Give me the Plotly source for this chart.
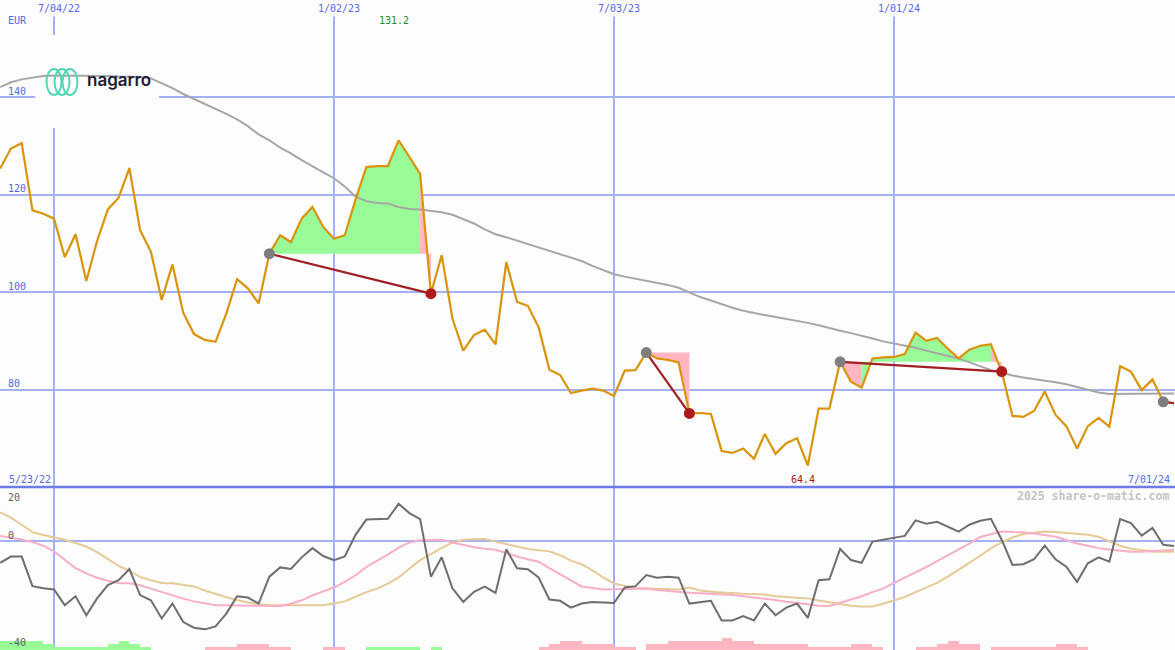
import pandas as pd
import plotly.graph_objects as go

# ---------------- data ----------------
dates = pd.date_range("2022-05-30", periods=110, freq="7D")

price = [125.4, 129.5, 130.6, 116.8, 116.1, 115.1, 107.2, 111.9, 102.3, 110.5,
         117.0, 119.4, 125.5, 112.7, 108.3, 98.4, 105.7, 95.8, 91.4, 90.2,
         89.8, 95.6, 102.7, 100.8, 97.7, 107.9, 111.7, 110.3, 115.1, 117.5,
         113.4, 111.0, 111.7, 119.0, 125.7, 125.9, 125.9, 131.2, 127.8, 124.3,
         99.7, 107.6, 94.6, 88.0, 91.2, 92.3, 89.3, 106.2, 98.0, 97.2,
         92.8, 84.1, 83.0, 79.3, 79.8, 80.2, 79.8, 78.7, 83.9, 84.0,
         87.6, 86.4, 86.1, 85.6, 75.1, 75.2, 75.0, 67.4, 67.0, 67.9,
         65.8, 70.9, 66.8, 69.0, 70.0, 64.4, 76.1, 76.1, 85.7, 81.6,
         80.4, 86.4, 86.6, 86.7, 87.3, 91.7, 90.0, 90.6, 88.4, 86.4,
         88.2, 89.0, 89.3, 83.7, 74.6, 74.4, 75.6, 79.6, 74.8, 72.5,
         67.9, 72.5, 74.2, 72.4, 84.8, 83.7, 79.9, 82.1, 77.5, 77.2]

moving_avg = [142.1, 143.1, 143.7, 144.1, 144.4, 144.5, 144.5, 144.5, 144.4, 144.4,
              144.4, 144.3, 144.3, 144.2, 143.9, 142.9, 141.9, 140.7, 139.7, 138.6,
              137.6, 136.6, 135.5, 134.1, 132.4, 131.2, 129.7, 128.5, 127.1, 125.8,
              124.6, 123.4, 121.7, 119.6, 118.7, 118.3, 118.2, 117.5, 117.1, 117.0,
              116.7, 116.4, 115.9, 115.0, 114.1, 112.9, 111.9, 111.3, 110.6, 109.9,
              109.3, 108.6, 107.9, 107.2, 106.4, 105.4, 104.5, 103.7, 103.2, 102.8,
              102.4, 101.9, 101.5, 100.9, 99.9, 99.0, 98.3, 97.5, 96.8, 96.2,
              95.7, 95.3, 94.9, 94.5, 94.2, 93.7, 93.2, 92.6, 92.1, 91.6,
              91.1, 90.5, 89.9, 89.5, 89.0, 88.6, 88.0, 87.4, 86.9, 86.4,
              85.6, 84.8, 84.0, 83.5, 82.9, 82.5, 82.2, 81.8, 81.5, 81.1,
              80.5, 79.9, 79.4, 79.1, 79.1, 79.1, 79.1, 79.2, 79.2, 79.2]

oscillator = [-7.9, -5.6, -5.6, -16.5, -17.3, -17.7, -23.5, -20.2, -27.2, -21.0,
              -16.1, -14.3, -10.2, -19.8, -21.7, -28.4, -22.9, -29.7, -31.8, -32.4,
              -31.3, -26.6, -20.2, -20.7, -22.9, -13.0, -9.6, -10.2, -5.9, -2.5,
              -5.4, -6.9, -5.6, 2.4, 8.0, 8.1, 8.3, 13.8, 10.4, 8.2,
              -13.0, -5.9, -17.3, -22.3, -18.6, -16.7, -19.0, -2.9, -9.9, -10.3,
              -13.3, -21.4, -21.9, -24.4, -22.9, -22.3, -22.6, -22.7, -17.0, -16.5,
              -12.4, -13.4, -13.0, -13.4, -22.9, -22.3, -21.9, -29.1, -29.1, -27.5,
              -29.1, -22.9, -27.2, -24.4, -22.9, -28.2, -14.3, -14.0, -2.8, -6.9,
              -7.9, -0.1, 0.6, 1.2, 2.0, 7.7, 6.5, 7.2, 5.3, 3.6,
              6.1, 7.6, 8.3, 0.6, -8.7, -8.4, -6.6, -1.6, -6.6, -9.3,
              -14.9, -8.1, -5.9, -7.5, 8.2, 6.7, 2.1, 4.9, -1.3, -1.7]

signal_fast = [2.0, 1.4, 0.7, -0.3, -1.6, -3.7, -6.8, -9.9, -11.8, -13.4,
               -14.5, -15.3, -15.4, -16.2, -17.4, -18.7, -19.9, -21.1, -22.1, -22.9,
               -23.5, -23.5, -23.5, -23.6, -23.7, -23.8, -23.8, -23.0, -21.7, -19.9,
               -18.5, -17.0, -14.9, -12.5, -9.4, -7.2, -4.9, -2.3, -0.4, 0.4,
               0.6, 0.6, -0.4, -1.3, -2.2, -2.7, -3.1, -4.3, -5.6, -6.6,
               -7.5, -9.9, -12.3, -14.4, -16.6, -17.1, -17.7, -17.6, -17.5, -17.4,
               -17.4, -17.9, -18.3, -18.7, -18.9, -19.1, -19.3, -19.5, -19.8, -20.2,
               -20.6, -21.0, -21.6, -22.2, -22.8, -23.2, -23.7, -23.8, -22.6, -21.4,
               -20.2, -18.7, -17.3, -15.3, -13.4, -11.5, -9.5, -7.3, -5.2, -3.1,
               -0.8, 1.6, 2.7, 3.6, 3.4, 3.3, 2.9, 2.4, 1.7, 0.5,
               -0.8, -1.6, -2.5, -3.0, -3.4, -3.8, -3.8, -3.7, -3.4, -3.1]

signal_slow = [10.7, 8.7, 6.1, 3.4, 2.3, 1.4, 0.6, -0.6, -1.9, -4.0,
               -6.4, -9.0, -10.9, -13.1, -14.3, -15.3, -15.4, -15.9, -16.6, -18.1,
               -19.4, -20.6, -21.6, -22.5, -23.1, -23.5, -23.5, -23.5, -23.5, -23.5,
               -23.5, -22.9, -22.1, -20.4, -18.7, -17.4, -15.6, -13.3, -10.2, -6.9,
               -4.7, -2.4, -0.5, 0.6, 0.8, 0.9, -0.1, -1.1, -1.9, -2.8,
               -3.3, -3.7, -5.1, -7.1, -8.5, -10.7, -13.3, -15.5, -16.4, -17.2,
               -17.4, -17.5, -17.6, -17.7, -17.0, -18.1, -18.6, -18.9, -19.2, -19.3,
               -19.4, -19.6, -20.2, -20.5, -20.8, -21.0, -21.8, -22.5, -23.1, -23.7,
               -24.0, -24.0, -23.0, -21.8, -20.5, -18.7, -17.1, -15.3, -13.0, -10.6,
               -7.9, -5.3, -2.6, -0.4, 1.4, 2.7, 3.2, 3.6, 3.4, 3.1,
               2.9, 2.4, 1.7, 0.0, -1.6, -2.7, -3.3, -3.7, -3.8, -3.8]

histogram = [3.3, 3.3, 3.3, 3.3, 2.2, 1.1, 1.1, 1.1, 1.1, 1.1,
             2.2, 3.3, 2.2, 1.1, 0, 0, 0, 0, 0, -1.1,
             -1.1, -1.1, -2.2, -2.2, -2.2, -1.1, -1.1, 0, 0, 0,
             -1.1, -1.1, 0, 0, 1.1, 1.1, 1.1, 1.1, 1.1, 0,
             1.1, 0, 0, 0, 0, 0, 0, 0, 0, 0,
             -1.1, -2.2, -3.3, -3.3, -2.2, -2.2, -2.2, -1.1, -1.1, 0,
             -2.2, -2.2, -3.3, -3.3, -3.3, -3.3, -3.3, -4.4, -3.3, -3.3,
             -2.2, -2.2, -2.2, -2.2, -2.2, -1.1, -1.1, -1.1, -1.1, -2.2,
             -2.2, -1.1, 0, 0, 0, -1.1, -1.1, -2.2, -3.3, -2.2,
             -2.2, 0, -1.1, -1.1, -1.1, -1.1, -1.1, -1.1, -2.2, -2.2,
             -1.1, 0, 0, 0, 0, 0, 0, 0, 0, 0]

buy_dates = ["2022-11-21", "2023-07-24", "2023-11-27", "2024-06-24"]
sell_dates = ["2023-03-06", "2023-08-21", "2024-03-11", "2024-07-01"]
open_trade = [False, False, False, True]

grid_dates = ["2022-07-04", "2023-01-02", "2023-07-03", "2024-01-01"]
grid_labels = ["7/04/22", "1/02/23", "7/03/23", "1/01/24"]
price_ticks = [80, 100, 120, 140]
osc_ticks = [20, 0, -40]
currency = "EUR"
start_label = "5/23/22"
end_label = "7/01/24"
credit = "2025 share-o-matic.com"
logo_text = "nagarro"

# ---------------- styles ----------------
BG = "#FCFDFC"
GRID = "#A3B1F2"
BLUE_TXT = "#5468F0"
ORANGE = "#DA940C"
MA_GRAY = "#A6A6A6"
GREEN_FILL = "#98FB98"
PINK_FILL = "#FFB6C1"
TRADE_RED = "#A21E22"
MONO = "DejaVu Sans Mono"
W, H = 1175, 650
D = 163 / 650  # lower panel fraction
Y_MAIN = (60, 160)
x_range = [pd.Timestamp("2022-05-29 21:36"), pd.Timestamp("2024-07-01 15:36")]


def px(x):
    return x / W


def py(y):
    return 1 - y / H


def px_to_date(x):
    return x_range[0] + (x_range[1] - x_range[0]) * (x / W)


def py_to_main(y):
    return Y_MAIN[1] - (Y_MAIN[1] - Y_MAIN[0]) * y / (H * (1 - D))


idx = {d: i for i, d in enumerate(dates)}
buy_i = [idx[pd.Timestamp(d)] for d in buy_dates]
sell_i = [idx[pd.Timestamp(d)] for d in sell_dates]

fig = go.Figure()

# background box behind the logo (covers gridlines, sits under data lines)
bx0, bx1 = px_to_date(35), px_to_date(159)
by0, by1 = py_to_main(35), py_to_main(128)
fig.add_trace(go.Scatter(x=[bx0, bx1, bx1, bx0, bx0], y=[by0, by0, by1, by1, by0],
                         mode="lines", fill="toself", fillcolor=BG, line=dict(width=0),
                         hoverinfo="skip", xaxis="x", yaxis="y"))

# fills between price and entry level
poly = {"g": ([], []), "p": ([], [])}
for b, s in zip(buy_i, sell_i):
    E = price[b]
    runs = []
    for k in range(b, s):
        c = "g" if price[k + 1] >= E else "p"
        if runs and runs[-1][0] == c:
            runs[-1][2] = k + 1
        else:
            runs.append([c, k, k + 1])
    for c, a, e in runs:
        xs, ys = poly[c]
        xs += list(dates[a:e + 1]) + [dates[e], dates[a], None]
        ys += price[a:e + 1] + [E, E, None]
for c, col in (("g", GREEN_FILL), ("p", PINK_FILL)):
    xs, ys = poly[c]
    fig.add_trace(go.Scatter(x=xs, y=ys, mode="lines", fill="toself", fillcolor=col,
                             line=dict(width=0), hoverinfo="skip", xaxis="x", yaxis="y"))

# moving average and price
fig.add_trace(go.Scatter(x=dates, y=moving_avg, mode="lines",
                         line=dict(color=MA_GRAY, width=2), xaxis="x", yaxis="y"))
fig.add_trace(go.Scatter(x=dates, y=price, mode="lines",
                         line=dict(color=ORANGE, width=2.2), xaxis="x", yaxis="y"))

# trade lines
tx, ty = [], []
for b, s in zip(buy_i, sell_i):
    tx += [dates[b], dates[s], None]
    ty += [price[b], price[s], None]
fig.add_trace(go.Scatter(x=tx, y=ty, mode="lines", line=dict(color=TRADE_RED, width=2.2),
                         xaxis="x", yaxis="y"))
fig.add_trace(go.Scatter(x=[dates[b] for b in buy_i], y=[price[b] for b in buy_i], mode="markers",
                         marker=dict(color="#7E7E7E", size=11), xaxis="x", yaxis="y"))
fig.add_trace(go.Scatter(x=[dates[s] for s, o in zip(sell_i, open_trade) if not o],
                         y=[price[s] for s, o in zip(sell_i, open_trade) if not o], mode="markers",
                         marker=dict(color="#AE1A1A", size=11), xaxis="x", yaxis="y"))

# lower panel
fig.add_trace(go.Bar(x=dates, y=[abs(h) for h in histogram], base=-40,
                     width=7 * 24 * 3600 * 1000, offset=0,
                     marker=dict(color=[GREEN_FILL if h > 0 else PINK_FILL for h in histogram],
                                 line=dict(width=0)),
                     xaxis="x2", yaxis="y2"))
fig.add_trace(go.Scatter(x=dates, y=signal_slow, mode="lines",
                         line=dict(color="#E6CA96", width=2), xaxis="x2", yaxis="y2"))
fig.add_trace(go.Scatter(x=dates, y=signal_fast, mode="lines",
                         line=dict(color="#F7AEC6", width=2), xaxis="x2", yaxis="y2"))
fig.add_trace(go.Scatter(x=dates, y=oscillator, mode="lines",
                         line=dict(color="#6E6E6E", width=2), xaxis="x2", yaxis="y2"))

axis_common = dict(showticklabels=False, zeroline=False, showline=False, ticks="",
                   showgrid=True, gridcolor=GRID, gridwidth=2, fixedrange=True)
fig.update_layout(
    width=W, height=H, margin=dict(l=0, r=0, t=0, b=0),
    paper_bgcolor=BG, plot_bgcolor=BG, showlegend=False, bargap=0,
    xaxis=dict(domain=[0, 1], range=x_range, anchor="y", type="date",
               tickvals=grid_dates, **axis_common),
    yaxis=dict(domain=[D, 1], range=list(Y_MAIN), anchor="x", tickvals=price_ticks, **axis_common),
    xaxis2=dict(domain=[0, 1], range=x_range, anchor="y2", type="date",
                tickvals=grid_dates, **axis_common),
    yaxis2=dict(domain=[0, D], range=[-40, 20], anchor="x2", tickvals=[0], **axis_common),
)

shapes = [
    dict(type="line", xref="paper", yref="paper", x0=0, x1=1, y0=D, y1=D,
         line=dict(color="#6C7CE8", width=2.5), layer="above"),
]
# logo loops
for cx in (54, 62, 70):
    shapes.append(dict(type="circle", xref="paper", yref="paper",
                       x0=px(cx - 7.5), x1=px(cx + 7.5), y0=py(95), y1=py(69),
                       line=dict(color="#55D6B6", width=2), layer="above"))
fig.update_layout(shapes=shapes)

ann = []


def mono(size, color, **kw):
    return dict(family=MONO, size=size, color=color, **kw)


ann.append(dict(text=currency, xref="paper", yref="paper", x=px(6), y=py(21),
                xanchor="left", yanchor="middle", showarrow=False, font=mono(10, BLUE_TXT)))
for d, lab in zip(grid_dates, grid_labels):
    ann.append(dict(text=lab, xref="x", yref="paper", x=d, y=py(9), xshift=4.5,
                    xanchor="center", yanchor="middle", showarrow=False, bgcolor=BG,
                    borderpad=2, font=mono(10, BLUE_TXT)))
for t in price_ticks:
    ann.append(dict(text=str(t), xref="paper", yref="y", x=px(6), y=t, yshift=6,
                    xanchor="left", yanchor="middle", showarrow=False, font=mono(10, BLUE_TXT)))
imax = max(range(len(price)), key=lambda i: price[i])
imin = min(range(len(price)), key=lambda i: price[i])
ann.append(dict(text=f"{price[imax]:.1f}", xref="x", yref="paper", x=dates[imax], y=py(21),
                xshift=-5, xanchor="center", yanchor="middle", showarrow=False,
                font=mono(10, "#1E8C1E")))
ann.append(dict(text=f"{price[imin]:.1f}", xref="x", yref="paper", x=dates[imin], y=py(479),
                xshift=-5, xanchor="center", yanchor="middle", showarrow=False,
                font=mono(10, "#A01818")))
ann.append(dict(text=start_label, xref="paper", yref="paper", x=px(7), y=py(479),
                xanchor="left", yanchor="middle", showarrow=False, font=mono(10, BLUE_TXT)))
ann.append(dict(text=end_label, xref="paper", yref="paper", x=px(1172), y=py(479),
                xanchor="right", yanchor="middle", showarrow=False, font=mono(10, BLUE_TXT)))
ann.append(dict(text=credit, xref="paper", yref="paper", x=px(1171), y=py(496),
                xanchor="right", yanchor="middle", showarrow=False,
                font=mono(11.5, "#C4C4C4", weight="bold")))
osc_label_y = {20: 497, 0: 535, -40: 642}
for t in osc_ticks:
    ann.append(dict(text=str(t), xref="paper", yref="paper", x=px(6), y=py(osc_label_y[t]),
                    xanchor="left", yanchor="middle", showarrow=False, font=mono(10, "#606060")))
ann.append(dict(text=logo_text, xref="paper", yref="paper", x=px(85), y=py(80),
                xanchor="left", yanchor="middle", showarrow=False,
                font=dict(family="Inter", size=17, color="#1C1B34", weight=600)))
fig.update_layout(annotations=ann)

fig.write_html("out.html", include_plotlyjs=True, config={"displayModeBar": False},
               post_script="document.body.style.margin='0';document.body.style.background='%s';" % BG)
